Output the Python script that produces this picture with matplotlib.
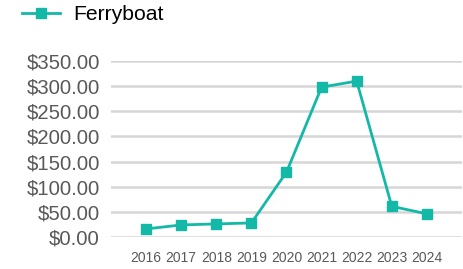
import matplotlib
matplotlib.use("Agg")
import matplotlib.pyplot as plt
from matplotlib.ticker import FuncFormatter

years = ["2016", "2017", "2018", "2019", "2020", "2021", "2022", "2023", "2024"]
ferryboat = [16, 24, 26, 28, 129, 298, 310, 61, 46]
y_ticks = [0, 50, 100, 150, 200, 250, 300, 350]

teal = "#14B8A6"
text_grey = "#595959"

plt.rcParams["font.family"] = ["Liberation Sans", "DejaVu Sans"]

fig = plt.figure(figsize=(4.64, 2.69), dpi=100)
ax = fig.add_axes([111 / 464, 32 / 269, 351 / 464, 176 / 269])

x = list(range(len(years)))
ax.plot(
    x,
    ferryboat,
    color=teal,
    linewidth=2.0,
    marker="s",
    markersize=7.5,
    label="Ferryboat",
    zorder=3,
    clip_on=False
)

ax.set_xlim(-1, len(years))
ax.set_ylim(0, 350)
ax.set_xticks(x)
ax.set_xticklabels(years)
ax.set_yticks(y_ticks)
ax.yaxis.set_major_formatter(FuncFormatter(lambda v, p: f"${v:,.2f}"))

ax.grid(axis="y", color="#D6D6D6", linewidth=1.8)
ax.set_axisbelow(True)
for s in ax.spines.values():
    s.set_visible(False)

ax.tick_params(axis="y", length=0, pad=8, labelsize=14.6, labelcolor=text_grey)
ax.tick_params(axis="x", length=0, pad=10, labelsize=10, labelcolor=text_grey)

fig.legend(
    loc="upper left",
    bbox_to_anchor=(20 / 464, 1 - 3 / 269),
    frameon=False,
    fontsize=15.2,
    handlelength=1.8,
    handletextpad=0.62,
    borderpad=0.1,
    borderaxespad=0
)

fig.savefig("out.png", dpi=100)
